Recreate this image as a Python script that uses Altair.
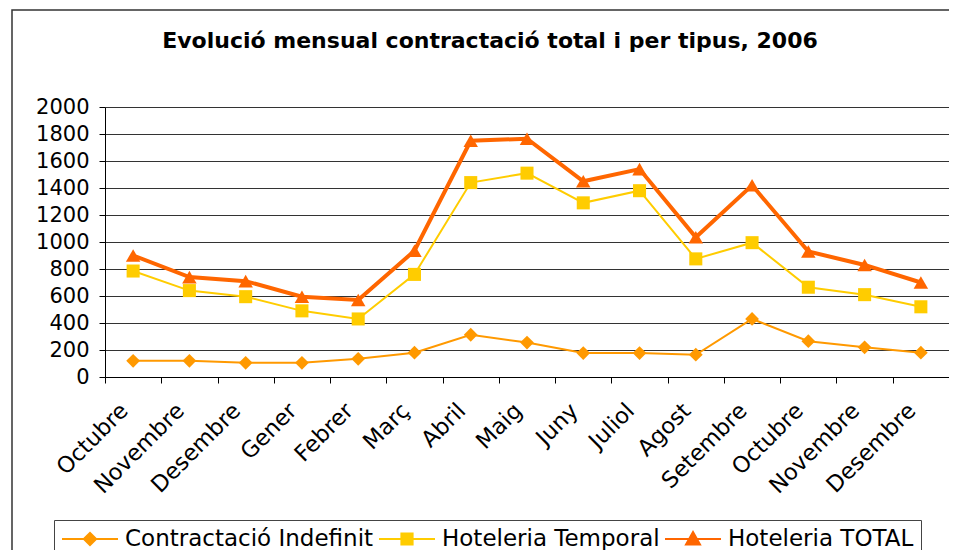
import json
import altair as alt
import pandas as pd

months = ["Octubre", "Novembre", "Desembre", "Gener", "Febrer", "Març", "Abril",
          "Maig", "Juny", "Juliol", "Agost", "Setembre", "Octubre", "Novembre", "Desembre"]
indefinit = [120, 120, 105, 105, 135, 180, 313, 255, 177, 177, 165, 430, 265, 220, 180]
temporal = [785, 640, 595, 490, 430, 760, 1440, 1510, 1290, 1380, 875, 995, 665, 610, 520]
total = [900, 740, 710, 595, 570, 935, 1750, 1765, 1450, 1540, 1035, 1420, 930, 830, 700]
series_names = ["Contractació Indefinit", "Hoteleria Temporal", "Hoteleria TOTAL"]
colors = ["#FF9900", "#FFCC00", "#FF6600"]
y_ticks = list(range(0, 2001, 200))

rows = []
for name, vals in zip(series_names, [indefinit, temporal, total]):
    for i, v in enumerate(vals):
        rows.append({"idx": i, "month": months[i], "series": name, "value": v})
df = pd.DataFrame(rows)

FONT = "DejaVu Sans"
label_expr = json.dumps(months, ensure_ascii=False) + "[datum.value]"

x_enc = alt.X("idx:O",
              scale=alt.Scale(type="band", paddingInner=0, paddingOuter=0),
              bandPosition=0.5,
              title=None,
              axis=alt.Axis(labelExpr=label_expr, labelAngle=-45, tickBand="extent",
                            tickSize=6, labelPadding=16, labelOffset=-17, grid=False,
                            labelFontSize=22.5, labelFont=FONT, labelColor="#000",
                            domainColor="#000", tickColor="#000"))
y_enc = alt.Y("value:Q",
              scale=alt.Scale(domain=[0, 2000], nice=False),
              title=None,
              axis=alt.Axis(values=y_ticks, format="d", grid=True, gridColor="#333", gridWidth=1,
                            tickSize=6, labelPadding=10, labelFontSize=21, labelFont=FONT,
                            labelColor="#000", domainColor="#000", tickColor="#000"))

base = alt.Chart(df)

shapes = ["diamond", "square", "triangle-up"]
sizes = [190, 170, 210]
widths = [2, 2, 4]

layers = []
frame = alt.Chart(pd.DataFrame({"a": [0]})).mark_rect(
    filled=False, stroke="#333", strokeWidth=1.5
).encode(x=alt.value(-93), x2=alt.value(1000), y=alt.value(-97), y2=alt.value(700))
layers.append(frame)

for name, col, shp, sz, w in zip(series_names, colors, shapes, sizes, widths):
    sub = base.transform_filter(alt.datum.series == name)
    layers.append(sub.mark_line(color=col, strokeWidth=w).encode(x=x_enc, y=y_enc))
    layers.append(sub.mark_point(shape=shp, filled=True, color=col, size=sz, opacity=1)
                  .encode(x=x_enc, y=y_enc))

legend_paths = [
    "M-1,0H1M-0.22,0L0,-0.22L0.22,0L0,0.22Z",
    "M-1,0H1M-0.2,-0.2H0.2V0.2H-0.2Z",
    "M-1,0H1M0,-0.25L0.25,0.2L-0.25,0.2Z",
]
leg = alt.Legend(title=None, orient="none", legendX=-51, legendY=413,
                 direction="horizontal", symbolSize=3136, clipHeight=24,
                 labelFont=FONT, labelFontSize=23, labelOffset=6, labelColor="#000",
                 columnPadding=4, padding=7, strokeColor="#444", labelLimit=400,
                 symbolOpacity=1)
legend_layer = base.transform_filter("datum.value < 0").mark_point(filled=True, opacity=1).encode(
    fill=alt.Fill("series:O", scale=alt.Scale(domain=series_names, range=colors), legend=leg),
    stroke=alt.Stroke("series:O", scale=alt.Scale(domain=series_names, range=colors), legend=leg),
    shape=alt.Shape("series:O", scale=alt.Scale(domain=series_names, range=legend_paths), legend=leg),
    strokeWidth=alt.StrokeWidth("series:O", scale=alt.Scale(domain=series_names, range=widths), legend=leg),
)
layers.append(legend_layer)

chart = alt.layer(*layers).properties(
    width=844, height=270,
    autosize=alt.AutoSizeParams(type="none"),
    padding={"left": 97, "top": 99, "right": 0, "bottom": 173},
    title=alt.TitleParams("Evolució mensual contractació total i per tipus, 2006",
                          font=FONT, fontSize=22, fontWeight="bold", color="#000",
                          anchor="middle", dx=-37, offset=-44),
).configure_view(stroke=None).configure(background="white")

chart.save("out.html", embed_options={"renderer": "svg", "actions": False})
